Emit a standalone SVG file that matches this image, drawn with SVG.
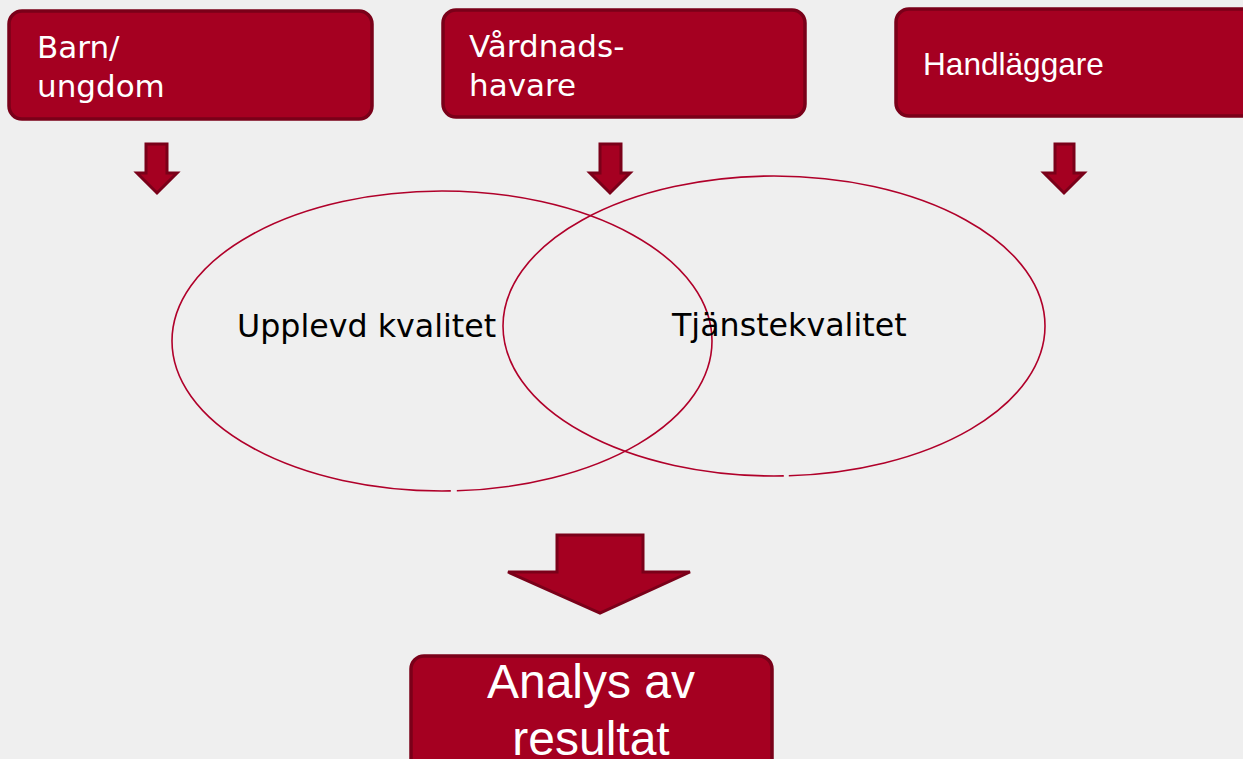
<svg xmlns="http://www.w3.org/2000/svg" width="1243" height="759" viewBox="0 0 1243 759">
  <defs>
    <style>
      .box { fill: #A50021; stroke: #7A0019; stroke-width: 3.5; }
      .arrow { fill: #A50021; stroke: #7A0019; stroke-width: 3; stroke-linejoin: miter; }
      .ell { fill: none; stroke: #B0002A; stroke-width: 1.6; }
      .vt { font-family: "DejaVu Sans", Verdana, sans-serif; font-size: 31px; fill: #FFFFFF; }
      .at { font-family: "Liberation Sans", Arial, sans-serif; fill: #FFFFFF; }
      .lbl { font-family: "DejaVu Sans", Verdana, sans-serif; font-size: 31.7px; fill: #000000; }
    </style>
  </defs>
  <rect x="0" y="0" width="1243" height="759" fill="#EFEFEF"/>

  <g id="node-barn">
    <rect class="box" x="9" y="11" width="363" height="108" rx="13"/>
    <text class="vt" x="37" y="58">Barn/</text>
    <text class="vt" x="37" y="97">ungdom</text>
  </g>
  <g id="node-vardnadshavare">
    <rect class="box" x="443" y="10" width="362" height="107" rx="13"/>
    <text class="vt" x="469" y="57">Vårdnads-</text>
    <text class="vt" x="469" y="96">havare</text>
  </g>
  <g id="node-handlaggare">
    <rect class="box" x="896" y="9" width="370" height="107" rx="13"/>
    <text class="at" x="923" y="75" font-size="31.6">Handläggare</text>
  </g>
  <g id="node-upplevd">
    <ellipse class="ell" cx="442" cy="341" rx="270" ry="150" stroke-dasharray="321.6 6 2000"/>
    <text class="lbl" x="237" y="337">Upplevd kvalitet</text>
  </g>
  <g id="node-tjanstekvalitet">
    <ellipse class="ell" cx="774" cy="326" rx="271" ry="150" stroke-dasharray="322.5 5 2000"/>
    <text class="lbl" x="672" y="336">Tjänstekvalitet</text>
  </g>
  <g id="node-analys">
    <rect class="box" x="411" y="656" width="361" height="120" rx="13"/>
    <text class="at" x="591" y="698" font-size="48" text-anchor="middle">Analys av</text>
    <text class="at" x="591" y="755" font-size="48" text-anchor="middle">resultat</text>
  </g>

  <g id="connectors">
    <polygon class="arrow" points="146,144 167,144 167,173 177,173 157,193 137,173 146,173"/>
    <polygon class="arrow" points="600,144 621,144 621,173 630,173 610,193 590,173 600,173"/>
    <polygon class="arrow" points="1055,144 1074,144 1074,173 1084,173 1064,193 1044,173 1055,173"/>
    <polygon class="arrow" points="557,535 643,535 643,572 690,572 600,613 508,572 557,572"/>
  </g>
</svg>
